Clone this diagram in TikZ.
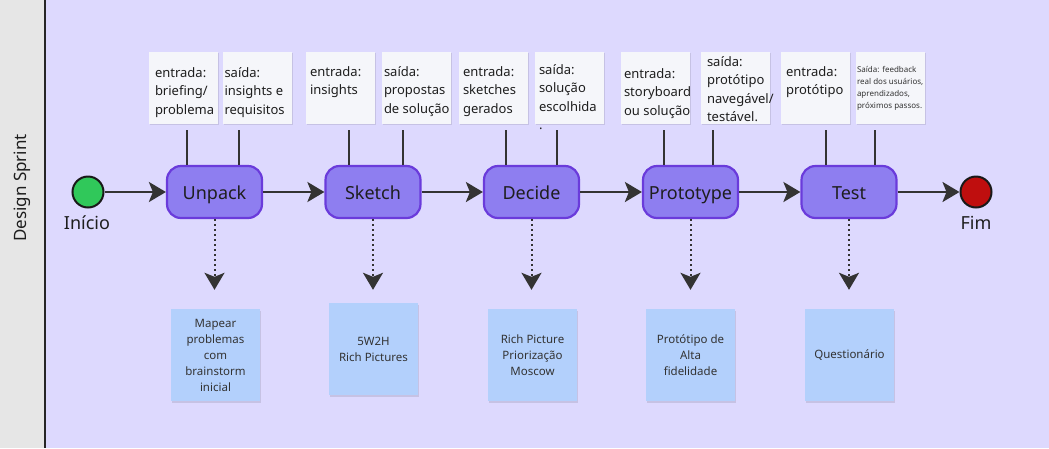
\documentclass[tikz,border=0pt]{standalone}
\usepackage{fontspec}
\setmainfont{Noto Sans}
\usetikzlibrary{arrows.meta,shadows,calc}
\definecolor{bgc}{HTML}{DDD9FE}
\definecolor{stripc}{HTML}{E6E6E6}
\definecolor{nodefill}{HTML}{8E7EF0}
\definecolor{nodeborder}{HTML}{6A3BDB}
\definecolor{topnote}{HTML}{F5F6FA}
\definecolor{botnote}{HTML}{B3D0FC}
\definecolor{arr}{HTML}{333333}
\definecolor{txt}{HTML}{1E1E1E}
\definecolor{startc}{HTML}{30C85A}
\definecolor{endc}{HTML}{BF0E0E}
\begin{document}
\begin{tikzpicture}[x=1pt,y=-1pt,
  stage/.style={draw=nodeborder,line width=2.2pt,fill=nodefill,rounded corners=14pt,
    minimum width=95pt,minimum height=52pt,inner sep=0pt,text height=14pt,text depth=0pt,
    font=\fontsize{18}{20}\selectfont,text=txt},
  flow/.style={draw=arr,line width=2.5pt,-{Stealth[length=17pt,width=20pt,inset=4pt]}},
  dots/.style={draw=arr,line width=2pt,dash pattern=on 2pt off 3pt,
    -{Stealth[length=17pt,width=20pt,inset=4pt]}},
  tick/.style={draw=arr,line width=2.5pt},
  tnote/.style={fill=topnote,minimum width=69pt,minimum height=72pt,inner sep=0pt,
    drop shadow={shadow xshift=0.8pt,shadow yshift=-1.2pt,opacity=0.10,fill=black}},
  ttext/.style={anchor=north west,inner sep=0pt,align=left,text=txt,
    font=\fontsize{13}{18.5}\selectfont},
  tsmall/.style={anchor=north west,inner sep=0pt,align=left,text=arr,
    font=\fontsize{8}{12}\selectfont},
  bnote/.style={fill=botnote,minimum width=89pt,minimum height=92pt,inner sep=0pt,
    align=center,text=arr,font=\fontsize{11.5}{16}\selectfont,
    drop shadow={shadow xshift=0.8pt,shadow yshift=-1.5pt,opacity=0.10,fill=black}},
  endpt/.style={circle,draw=black!90,line width=2pt,minimum size=31pt,inner sep=0pt},
  lbl/.style={inner sep=0pt,text=txt,font=\fontsize{18}{20}\selectfont}
]
\useasboundingbox (0,0) rectangle (1049,448);
% lane
\fill[stripc] (0,0) rectangle (45,448);
\fill[bgc] (45,0) rectangle (1049,448);
\draw[line width=2.5pt,black!85] (45,0) -- (45,448);
\node[rotate=90,inner sep=0pt,text=txt,font=\fontsize{17}{20}\selectfont] (lane) at (22,188) {Design Sprint};

% start / end
\node[endpt,fill=startc] (start) at (88,192) {};
\node[lbl] (startlbl) at (87,223) {Início};
\node[endpt,fill=endc] (fim) at (976,192) {};
\node[lbl] (fimlbl) at (976,223) {Fim};

% stages
\node[stage] (unpack) at (214.5,192) {Unpack};
\node[stage] (sketch) at (373,192) {Sketch};
\node[stage] (decide) at (531.5,192) {Decide};
\node[stage] (proto) at (690.5,192) {Prototype};
\node[stage] (test) at (849,192) {Test};

% top notes
\node[tnote] (n1) at (183.5,88) {};
\node[tnote] (n2) at (257.5,88) {};
\node[tnote] (n3) at (340.5,88) {};
\node[tnote] (n4) at (416.5,88) {};
\node[tnote] (n5) at (493.5,88) {};
\node[tnote] (n6) at (569.5,88) {};
\node[tnote] (n7) at (655.5,88) {};
\node[tnote] (n8) at (735.5,88) {};
\node[tnote] (n9) at (815.5,88) {};
\node[tnote] (n10) at (890.5,88) {};

\node[ttext] (t1) at ($(n1.north west)+(6,12.5)$) {\strut entrada:\\briefing/\\problema};
\node[ttext] (t2) at ($(n2.north west)+(1.5,12.5)$) {\strut saída:\\insights e\\requisitos};
\node[ttext] (t3) at ($(n3.north west)+(4,11.5)$) {\strut entrada:\\insights};
\node[ttext] (t4) at ($(n4.north west)+(2,11.5)$) {\strut saída:\\propostas\\de solução};
\node[ttext] (t5) at ($(n5.north west)+(4,11.5)$) {\strut entrada:\\sketches\\gerados};
\node[ttext] (t6) at ($(n6.north west)+(4,9.5)$) {\strut saída:\\solução\\escolhida\\.};
\node[ttext] (t7) at ($(n7.north west)+(3,13.5)$) {\strut entrada:\\storyboard\\ou solução};
\node[ttext] (t8) at ($(n8.north west)+(6,1.5)$) {\strut saída:\\protótipo\\navegável/\\testável.};
\node[ttext] (t9) at ($(n9.north west)+(5,11.5)$) {\strut entrada:\\protótipo};
\node[tsmall] (t10) at ($(n10.north west)+(1,11.7)$) {\strut Saída: feedback\\real dos usuários,\\aprendizados,\\próximos passos.};

% ticks
\draw[tick] ($(unpack.north)+(-27.5,0)$) -- ++(0,-35);
\draw[tick] ($(unpack.north)+(24.5,0)$) -- ++(0,-35);
\draw[tick] ($(sketch.north)+(-24,0)$) -- ++(0,-35);
\draw[tick] ($(sketch.north)+(30,0)$) -- ++(0,-35);
\draw[tick] ($(decide.north)+(-25.5,0)$) -- ++(0,-35);
\draw[tick] ($(decide.north)+(25.5,0)$) -- ++(0,-35);
\draw[tick] ($(proto.north)+(-26.5,0)$) -- ++(0,-35);
\draw[tick] ($(proto.north)+(22.5,0)$) -- ++(0,-35);
\draw[tick] ($(test.north)+(-23,0)$) -- ++(0,-35);
\draw[tick] ($(test.north)+(26,0)$) -- ++(0,-35);

% flow
\draw[flow] (start) -- (unpack);
\draw[flow] (unpack) -- (sketch);
\draw[flow] (sketch) -- (decide);
\draw[flow] (decide) -- (proto);
\draw[flow] (proto) -- (test);
\draw[flow] (test) -- (fim);

% bottom notes
\node[bnote] (b1) at (215.5,355) {Mapear\\problemas\\com\\brainstorm\\inicial};
\node[bnote] (b2) at (373.5,349) {5W2H\\Rich Pictures};
\node[bnote] (b3) at (532.5,355) {Rich Picture\\Priorização\\Moscow};
\node[bnote] (b4) at (690.5,355) {Protótipo de\\Alta\\fidelidade};
\node[bnote] (b5) at (849.5,355) {Questionário};

\draw[dots,shorten >=19pt] (unpack.south) -- (unpack.south |- b1.north);
\draw[dots,shorten >=13pt] (sketch.south) -- (sketch.south |- b2.north);
\draw[dots,shorten >=19pt] (decide.south) -- (decide.south |- b3.north);
\draw[dots,shorten >=19pt] (proto.south) -- (proto.south |- b4.north);
\draw[dots,shorten >=19pt] (test.south) -- (test.south |- b5.north);
\end{tikzpicture}
\end{document}
